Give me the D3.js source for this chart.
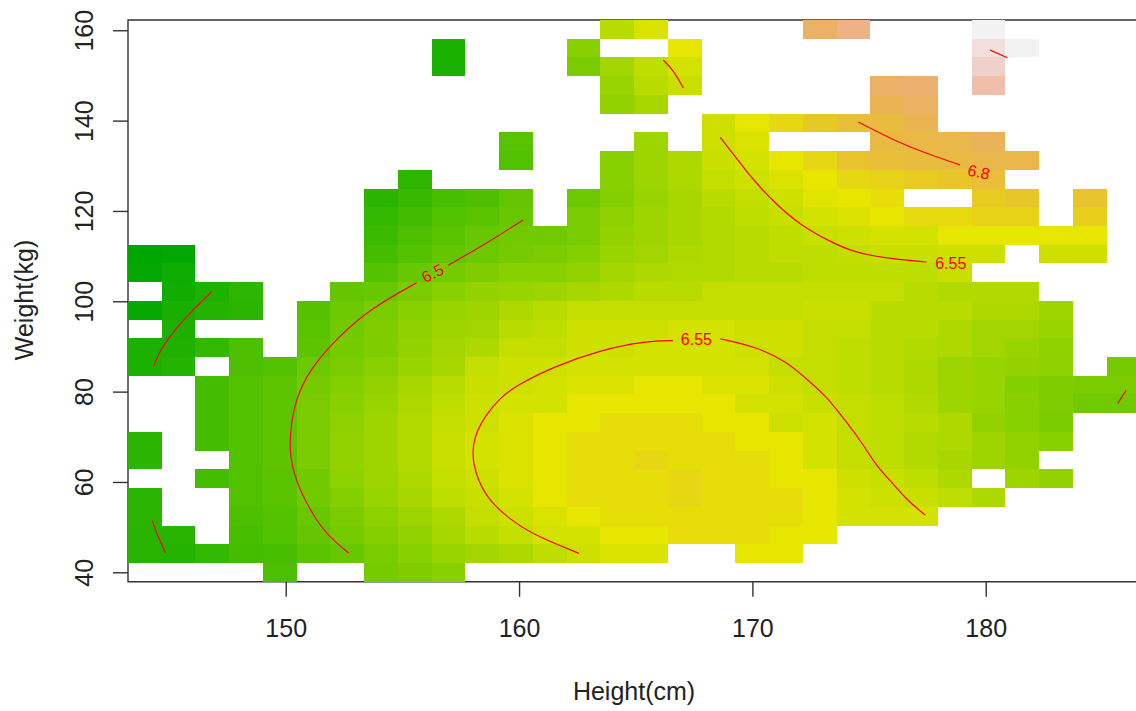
<!DOCTYPE html>
<html><head><meta charset="utf-8">
<script src="https://d3js.org/d3.v7.min.js"></script>
<style>html,body{margin:0;padding:0;background:#fff;overflow:hidden}svg{display:block}text{font-family:"Liberation Sans",Arial,sans-serif}</style>
</head><body><svg id="chart" width="1136" height="711"></svg>
<script>
const _ = null;
// terrain colour level (0-100) of each grid cell, rows listed from top (heaviest) to bottom
const levels = [
[_,_,_,_,_,_,_,_,_,_,_,_,_,_,42,48,_,_,_,_,72,78,_,_,_,100,_,_,_,_],
[_,_,_,_,_,_,_,_,_,8,_,_,_,33,_,_,50,_,_,_,_,_,_,_,_,96,100,_,_,_],
[_,_,_,_,_,_,_,_,_,8,_,_,_,30,38,43,47,_,_,_,_,_,_,_,_,92,_,_,_,_],
[_,_,_,_,_,_,_,_,_,_,_,_,_,_,36,42,45,_,_,_,_,_,72,74,_,86,_,_,_,_],
[_,_,_,_,_,_,_,_,_,_,_,_,_,_,35,39,_,_,_,_,_,_,68,71,_,_,_,_,_,_],
[_,_,_,_,_,_,_,_,_,_,_,_,_,_,_,_,_,46,50,54,58,62,63,67,_,_,_,_,_,_],
[_,_,_,_,_,_,_,_,_,_,_,23,_,_,_,37,_,46,48,_,_,_,64,65,66,69,_,_,_,_],
[_,_,_,_,_,_,_,_,_,_,_,21,_,_,33,37,40,45,47,50,54,60,62,63,64,66,66,_,_,_],
[_,_,_,_,_,_,_,_,13,_,_,_,_,_,33,37,40,44,46,48,50,54,55,57,59,62,_,_,_,_],
[_,_,_,_,_,_,_,12,15,19,20,25,_,27,32,36,39,42,44,46,49,50,52,_,_,57,59,_,60,_],
[_,_,_,_,_,_,_,14,17,21,23,26,_,30,34,37,39,41,43,45,47,48,50,53,53,55,55,_,56,_],
[_,_,_,_,_,_,_,16,20,23,26,28,28,30,35,37,39,41,42,43,45,46,47,47,50,50,50,50,50,_],
[0,1,_,_,_,_,_,18,22,25,27,29,30,32,36,38,40,41,42,43,43,44,45,45,46,46,_,46,46,_],
[1,4,_,_,_,_,_,22,26,29,31,33,33,35,38,40,41,41,42,42,43,43,43,43,45,_,_,_,_,_],
[_,5,9,13,_,_,25,26,30,33,35,36,37,39,40,42,42,44,44,44,44,44,44,42,41,41,41,_,_,_],
[2,7,10,12,_,22,27,30,33,36,37,40,42,44,44,44,44,44,44,44,45,45,42,42,42,40,40,37,_,_],
[_,8,_,_,_,23,28,31,34,37,38,42,43,46,46,46,47,47,46,46,44,44,42,42,40,38,38,36,_,_],
[8,9,14,20,_,24,29,31,35,38,40,44,44,46,46,47,47,47,46,46,44,43,42,41,40,38,36,34,_,_],
[8,10,_,20,22,27,30,33,36,39,44,46,46,47,47,47,47,47,47,44,44,43,42,40,37,36,35,34,_,29],
[_,_,18,21,24,29,32,35,39,42,45,46,47,48,48,50,50,48,48,46,44,43,42,40,37,36,32,31,30,30],
[_,_,18,21,24,30,33,36,40,43,46,47,47,50,50,50,50,50,47,47,45,44,43,41,37,36,33,31,28,28],
[_,_,18,21,24,30,34,37,41,44,46,48,50,50,52,52,52,50,50,46,47,44,43,42,40,35,33,30,_,_],
[12,_,18,21,24,30,35,37,41,45,47,48,50,52,52,52,52,52,50,50,47,44,43,41,40,37,35,33,_,_],
[12,_,_,21,24,30,35,37,41,45,47,48,50,52,52,54,52,52,52,50,47,44,43,41,39,37,35,_,_,_],
[_,_,18,21,23,28,34,37,40,44,46,48,50,52,52,52,54,52,52,50,50,46,45,43,40,_,37,35,_,_],
[12,_,_,21,23,28,32,36,39,43,45,47,50,52,52,52,54,52,52,52,50,47,46,45,43,40,_,_,_,_],
[12,_,_,20,22,26,30,34,37,40,44,46,48,50,52,52,52,52,52,52,50,47,47,47,_,_,_,_,_,_],
[11,11,_,19,21,25,29,32,35,39,42,44,47,47,50,50,52,52,52,50,50,_,_,_,_,_,_,_,_,_],
[11,10,14,18,19,23,26,30,33,36,38,40,43,46,48,48,_,_,50,50,_,_,_,_,_,_,_,_,_,_],
[_,_,_,_,20,_,_,29,31,33,_,_,_,_,_,_,_,_,_,_,_,_,_,_,_,_,_,_,_,_]
];
const heightDomain = [143.24, 186.44];
const weightDomain = [37.92, 162.27];
const cellWidthCm = 1.4464;
const cellHeightKg = 4.145;
const heightTicks = [150,160,170,180];
const weightTicks = [40,60,80,100,120,140,160];

// contour polylines as [height, weight]
const contours = [
 [[144.34,85.65],[144.61,89.2],[145.18,93.2],[145.76,96.7],[146.47,100.3],[146.83,102.2]],
 [[144.28,51.4],[144.47,48.6],[144.84,44.3]],
 [[160.17,118.0],[158.76,113.3],[156.97,108.0]],
 [[155.61,104.1],[153.61,98.3],[152.25,92.1],[151.04,85.1],[150.40,78.1],[150.18,70.8],[150.18,65.6],[150.44,60.0],[151.11,53.1],[151.76,48.3],[152.71,44.2]],
 [[162.57,44.2],[160.54,48.4],[159.47,52.3],[158.54,56.7],[157.97,64.1],[158.04,70.0],[158.62,75.2],[159.19,78.6],[159.90,81.4],[161.47,85.5],[163.47,89.2],[165.47,91.2],[166.59,91.3]],
 [[168.62,91.7],[170.19,89.9],[171.47,86.6],[172.19,83.4],[173.19,78.9],[173.90,74.1],[174.62,69.3],[175.33,63.4],[175.90,60.4],[176.62,56.0],[177.40,52.7]],
 [[168.62,136.3],[169.33,131.6],[170.04,126.8],[171.05,121.3],[172.05,116.9],[173.33,113.2],[174.33,110.9],[175.69,109.5],[177.47,108.7]],
 [[174.54,139.7],[176.19,135.3],[177.47,132.7],[178.90,130.2]],
 [[166.18,153.4],[166.61,151.2],[167.04,147.2]],
 [[180.19,155.6],[180.93,153.9]],
 [[185.66,77.4],[186.02,80.3]]
];
const contourLabels = [
 {text:"6.5", h:156.3, w:106.2, angle:-27},
 {text:"6.55", h:167.6, w:91.5, angle:0},
 {text:"6.55", h:178.5, w:108.4, angle:0},
 {text:"6.8", h:179.7, w:128.6, angle:12}
];

function hsv(h,s,v){
  const f=(n)=>{const k=(n+h/60)%6;return Math.round(255*(v-v*s*Math.max(0,Math.min(k,4-k,1))));};
  return `rgb(${f(5)},${f(3)},${f(1)})`;
}
function terrain(level){
  const hs = d3.scaleLinear().domain([0,50,100]).range([120,60,0]);
  const ss = d3.scaleLinear().domain([0,50,100]).range([1,1,0]);
  const vs = d3.scaleLinear().domain([0,50,100]).range([0.65,0.9,0.95]);
  return hsv(hs(level),ss(level),vs(level));
}

const svg = d3.select("#chart");
const x = d3.scaleLinear().domain(heightDomain).range([128,1136]);
const y = d3.scaleLinear().domain(weightDomain).range([581.7,20]);
const ink = "#333";

svg.append("path").attr("fill","none").attr("stroke",ink).attr("stroke-width",1.4)
   .attr("d",`M${x.range()[1]},${y.range()[1]}H${x.range()[0]}V${y.range()[0]}H${x.range()[1]}`);

const cells = levels.flatMap((row,j)=>row.map((v,c)=>({v,c,k:levels.length-1-j}))).filter(d=>d.v!==null);
svg.append("g").attr("shape-rendering","crispEdges").selectAll("rect").data(cells).join("rect")
   .attr("x",d=>Math.round(x(heightDomain[0]+d.c*cellWidthCm)))
   .attr("width",d=>Math.round(x(heightDomain[0]+(d.c+1)*cellWidthCm))-Math.round(x(heightDomain[0]+d.c*cellWidthCm)))
   .attr("y",d=>Math.round(y(weightDomain[0]+(d.k+1)*cellHeightKg)))
   .attr("height",d=>Math.round(y(weightDomain[0]+d.k*cellHeightKg))-Math.round(y(weightDomain[0]+(d.k+1)*cellHeightKg)))
   .attr("fill",d=>terrain(d.v));

const line = d3.line().x(d=>x(d[0])).y(d=>y(d[1])).curve(d3.curveBasis);
svg.append("g").selectAll("path").data(contours).join("path")
   .attr("d",line).attr("fill","none").attr("stroke","#f00").attr("stroke-width",1.2);

svg.append("g").selectAll("text").data(contourLabels).join("text")
   .attr("transform",d=>`translate(${x(d.h)},${y(d.w)}) rotate(${d.angle})`)
   .attr("text-anchor","middle").attr("dominant-baseline","central")
   .attr("fill","#f00").attr("font-size",16).text(d=>d.text);

const xAxis = svg.append("g").attr("transform",`translate(0,${y.range()[0]})`)
   .call(d3.axisBottom(x).tickValues(heightTicks).tickSize(15).tickFormat(d3.format("d")));
const yAxis = svg.append("g").attr("transform",`translate(${x.range()[0]},0)`)
   .call(d3.axisLeft(y).tickValues(weightTicks).tickSize(15).tickFormat(d3.format("d")));
[xAxis,yAxis].forEach(a=>{
  a.select(".domain").remove();
  a.selectAll(".tick line").attr("stroke",ink).attr("stroke-width",1.4);
  a.selectAll(".tick text").attr("fill","#222").attr("font-size",25).attr("font-family",'"Liberation Sans",Arial,sans-serif');
});
xAxis.selectAll(".tick text").attr("y",55).attr("dy",0);
yAxis.selectAll(".tick text").attr("x",0).attr("y",0).attr("dy",0)
   .attr("text-anchor","middle").attr("dominant-baseline","auto")
   .attr("transform","translate(-35,0) rotate(-90)");

svg.append("text").attr("x",634).attr("y",700).attr("text-anchor","middle")
   .attr("fill","#222").attr("font-size",25).text("Height(cm)");
svg.append("text").attr("transform","translate(33,300) rotate(-90)").attr("text-anchor","middle")
   .attr("fill","#222").attr("font-size",25).text("Weight(kg)");
</script></body></html>
